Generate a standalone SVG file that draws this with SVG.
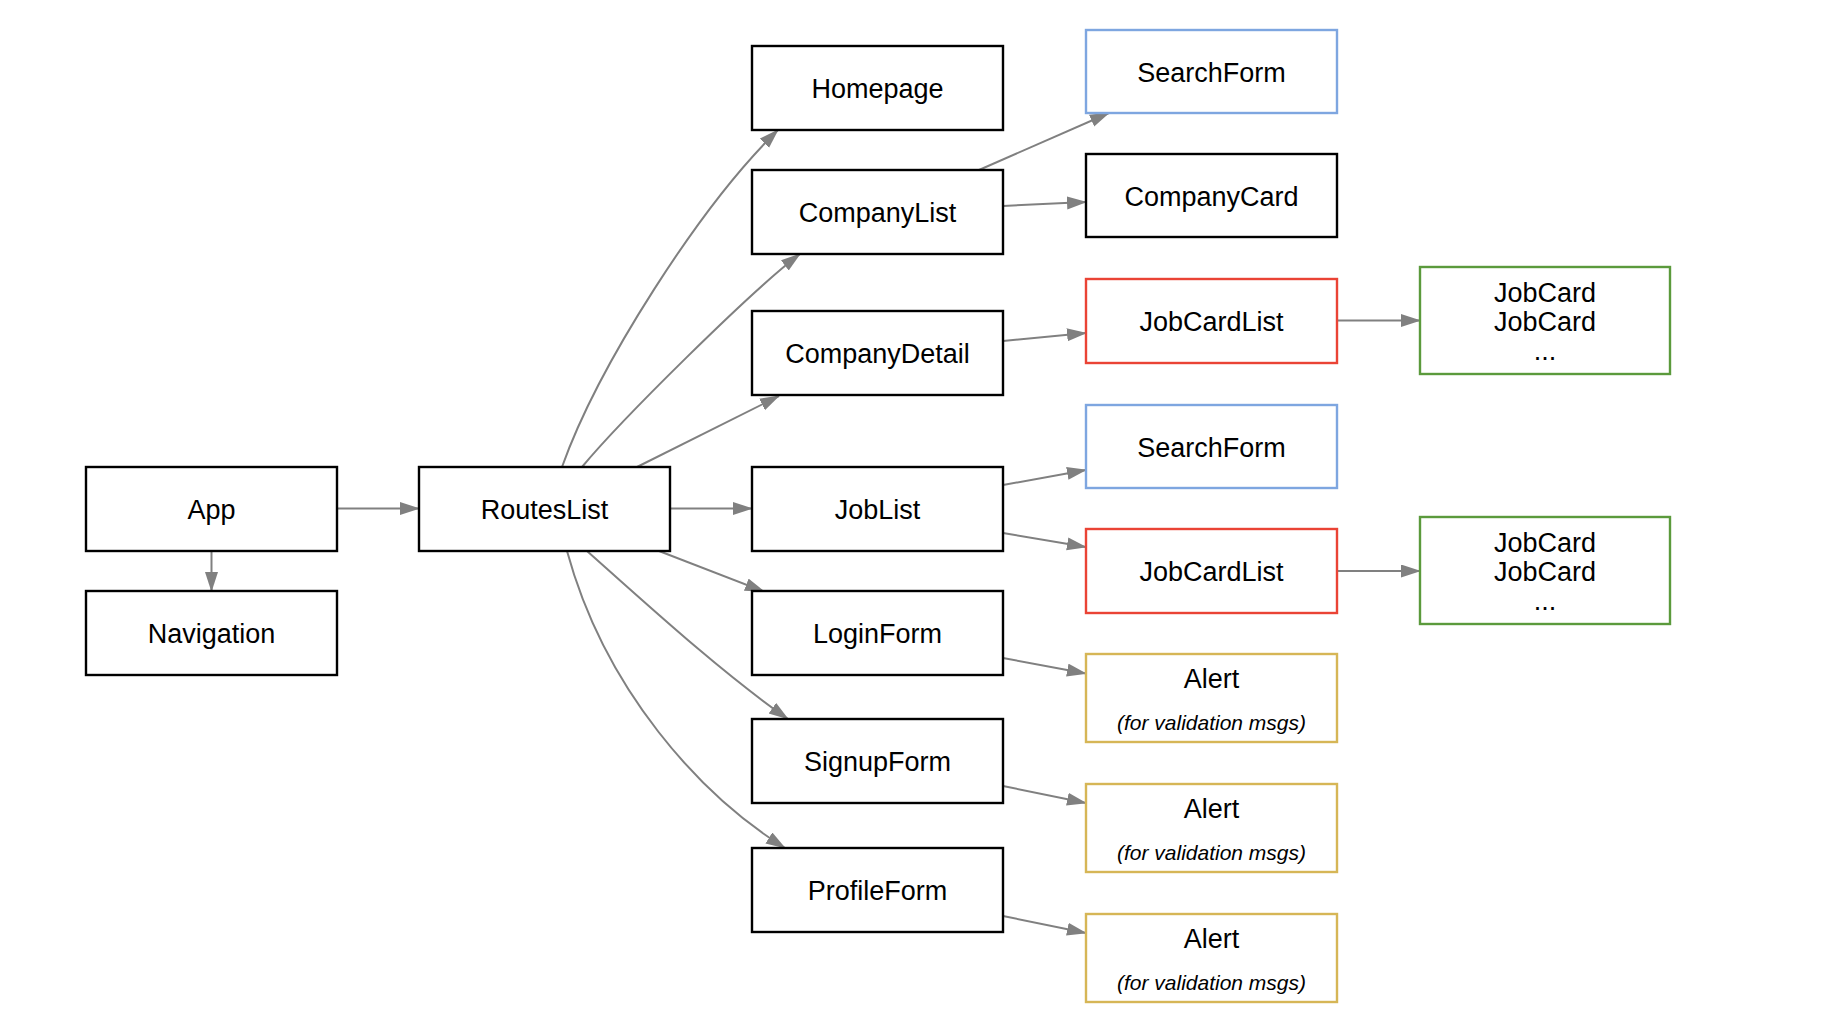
<svg xmlns="http://www.w3.org/2000/svg" width="1840" height="1036" viewBox="0 0 1840 1036">
<style>
.box{fill:#ffffff;stroke-width:2.4}
.k{stroke:#000000}
.b{stroke:#7EA6E0}
.r{stroke:#EA4335}
.g{stroke:#5B9A3C}
.y{stroke:#D6B656}
text{font-family:"Liberation Sans",Arial,sans-serif;font-size:27px;fill:#000000;text-anchor:middle}
text.it{font-size:21px;font-style:italic}
.edge{fill:none;stroke:#808080;stroke-width:2;marker-end:url(#arr)}
</style>
<defs>
<marker id="arr" markerUnits="userSpaceOnUse" markerWidth="20" markerHeight="14" refX="19" refY="6.5" orient="auto">
<path d="M0,0 L20,6.5 L0,13 Z" fill="#808080"/>
</marker>
</defs>
<rect width="1840" height="1036" fill="#ffffff"/>
<g id="connectors">
<path class="edge" d="M337,508.5 L419,508.5"/>
<path class="edge" d="M211.5,551 L211.5,591"/>
<path class="edge" d="M670,508.5 L752,508.5"/>
<path class="edge" d="M562,467 C598,366 700,206 778,130"/>
<path class="edge" d="M582,467 C621,420 752,290 800,254"/>
<path class="edge" d="M637,467 L779,396"/>
<path class="edge" d="M659,551 L764,591.5"/>
<path class="edge" d="M587,551 C647,604.5 723,674 788,719"/>
<path class="edge" d="M567,551 C605,690 700,795 785,848"/>
<path class="edge" d="M979,170 L1109,113"/>
<path class="edge" d="M1003,206 L1086,202"/>
<path class="edge" d="M1003,341 L1086,333"/>
<path class="edge" d="M1337,320.5 L1420,320.5"/>
<path class="edge" d="M1003,485 L1086,470"/>
<path class="edge" d="M1003,533 L1086,547"/>
<path class="edge" d="M1337,571 L1420,571"/>
<path class="edge" d="M1003,658 L1086,673.5"/>
<path class="edge" d="M1003,786 L1086,803"/>
<path class="edge" d="M1003,916 L1086,933"/>
</g>
<g id="app"><rect class="box k" x="86" y="467" width="251" height="84"/><text x="211.5" y="519">App</text></g>
<g id="navigation"><rect class="box k" x="86" y="591" width="251" height="84"/><text x="211.5" y="643">Navigation</text></g>
<g id="routeslist"><rect class="box k" x="419" y="467" width="251" height="84"/><text x="544.5" y="519">RoutesList</text></g>
<g id="homepage"><rect class="box k" x="752" y="46" width="251" height="84"/><text x="877.5" y="98">Homepage</text></g>
<g id="companylist"><rect class="box k" x="752" y="170" width="251" height="84"/><text x="877.5" y="222">CompanyList</text></g>
<g id="companydetail"><rect class="box k" x="752" y="311" width="251" height="84"/><text x="877.5" y="363">CompanyDetail</text></g>
<g id="joblist"><rect class="box k" x="752" y="467" width="251" height="84"/><text x="877.5" y="519">JobList</text></g>
<g id="loginform"><rect class="box k" x="752" y="591" width="251" height="84"/><text x="877.5" y="643">LoginForm</text></g>
<g id="signupform"><rect class="box k" x="752" y="719" width="251" height="84"/><text x="877.5" y="771">SignupForm</text></g>
<g id="profileform"><rect class="box k" x="752" y="848" width="251" height="84"/><text x="877.5" y="900">ProfileForm</text></g>
<g id="searchform1"><rect class="box b" x="1086" y="30" width="251" height="83"/><text x="1211.5" y="82">SearchForm</text></g>
<g id="companycard"><rect class="box k" x="1086" y="154" width="251" height="83"/><text x="1211.5" y="206">CompanyCard</text></g>
<g id="jobcardlist1"><rect class="box r" x="1086" y="279" width="251" height="84"/><text x="1211.5" y="331">JobCardList</text></g>
<g id="searchform2"><rect class="box b" x="1086" y="405" width="251" height="83"/><text x="1211.5" y="457">SearchForm</text></g>
<g id="jobcardlist2"><rect class="box r" x="1086" y="529" width="251" height="84"/><text x="1211.5" y="581">JobCardList</text></g>
<g id="alert1"><rect class="box y" x="1086" y="654" width="251" height="88"/><text x="1211.5" y="688">Alert</text><text class="it" x="1211.5" y="730">(for validation msgs)</text></g>
<g id="alert2"><rect class="box y" x="1086" y="784" width="251" height="88"/><text x="1211.5" y="818">Alert</text><text class="it" x="1211.5" y="860">(for validation msgs)</text></g>
<g id="alert3"><rect class="box y" x="1086" y="914" width="251" height="88"/><text x="1211.5" y="948">Alert</text><text class="it" x="1211.5" y="990">(for validation msgs)</text></g>
<g id="jobcards1"><rect class="box g" x="1420" y="267" width="250" height="107"/><text x="1545" y="302">JobCard</text><text x="1545" y="331">JobCard</text><text x="1545" y="360">...</text></g>
<g id="jobcards2"><rect class="box g" x="1420" y="517" width="250" height="107"/><text x="1545" y="552">JobCard</text><text x="1545" y="581">JobCard</text><text x="1545" y="610">...</text></g>
</svg>
